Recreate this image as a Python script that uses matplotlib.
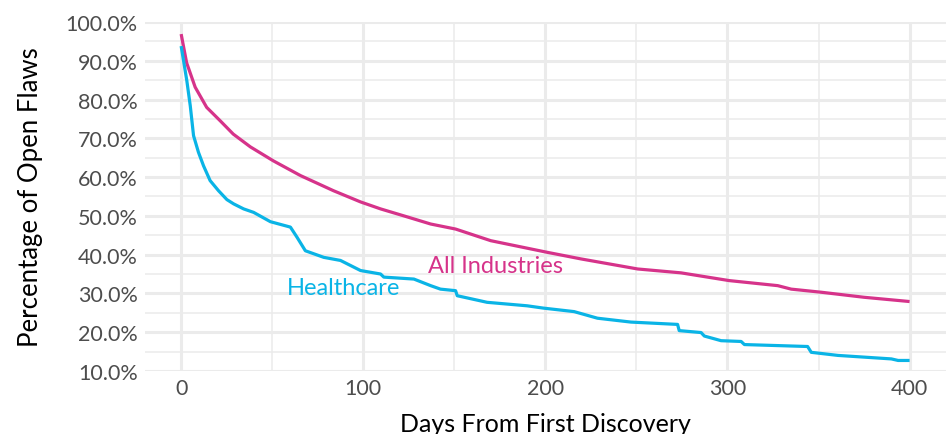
import numpy as np
import matplotlib.pyplot as plt

# curves (days, percent open)
all_days = [0, 3, 7.7, 14, 21.5, 28.6, 38, 50.6, 65.5, 83.6, 98.5, 109.5, 123, 137, 150.7,
            170, 201, 219.5, 250.7, 274.5, 301, 327.6, 335, 351.5, 375, 400]
all_pct = [96.9, 89.5, 83.2, 78.0, 74.5, 71.1, 67.8, 64.2, 60.4, 56.5, 53.6, 51.8, 49.9, 47.9, 46.6,
           43.6, 40.6, 38.9, 36.3, 35.3, 33.3, 32.0, 31.1, 30.3, 29.0, 27.9]

hc_days = [0, 3.1, 5, 6.8, 9.5, 12.3, 15.9, 20.5, 25.1, 28.8, 34.3, 39.8, 49, 60, 63.6,
           68.2, 78.3, 87.5, 98.5, 109.5, 111.3, 127.8, 137, 142.4, 150.7, 151.6, 168, 190,
           199, 215.8, 228.6, 247, 272.6, 273.5, 285.5, 287.3, 296.5, 307.5, 309.3, 344,
           346, 360.7, 390, 393.7, 400]
hc_pct = [93.8, 84.9, 78.4, 70.7, 66.4, 62.9, 59.1, 56.5, 54.2, 53.1, 51.8, 50.9, 48.5, 47.1, 44.5,
          41.0, 39.3, 38.5, 35.9, 35.0, 34.2, 33.7, 32.0, 31.1, 30.7, 29.4, 27.7, 26.8,
          26.2, 25.3, 23.6, 22.6, 22.0, 20.4, 19.9, 19.0, 17.8, 17.6, 16.8, 16.3,
          14.8, 14.0, 13.1, 12.7, 12.7]

pink = '#d6338a'
cyan = '#0ab4e6'
grid = '#ebebeb'

plt.rcParams['font.family'] = ['Lato', 'DejaVu Sans']

fig = plt.figure(figsize=(9.46, 4.35), dpi=100)
ax = fig.add_axes([0.153, 0.145, 0.847, 0.802])

ax.plot(all_days, all_pct, color=pink, lw=2.3, solid_capstyle='butt', clip_on=False, zorder=3)
ax.plot(hc_days, hc_pct, color=cyan, lw=2.3, solid_capstyle='butt', clip_on=False, zorder=3)

ax.text(172.7, 37.1, 'All Industries', color=pink, fontsize=17, ha='center', va='center')
ax.text(89, 31.4, 'Healthcare', color=cyan, fontsize=17, ha='center', va='center')

ax.set_xlim(-20, 420)
ax.set_ylim(10, 100)
ax.set_xticks([0, 100, 200, 300, 400])
ax.set_xticks([50, 150, 250, 350], minor=True)
ax.set_yticks(np.arange(10, 101, 10))
ax.set_yticks(np.arange(15, 100, 10), minor=True)
ax.set_yticklabels([f'{v:.1f}%' for v in np.arange(10, 101, 10)])

ax.grid(which='major', color=grid, lw=2.2)
ax.grid(which='minor', color=grid, lw=1.1)
ax.set_axisbelow(True)
for s in ax.spines.values():
    s.set_visible(False)
ax.tick_params(which='both', length=0, labelsize=15.5, labelcolor='#4d4d4d', pad=5)

ax.set_xlabel('Days From First Discovery', fontsize=18, color='black', labelpad=10)
ax.set_ylabel('Percentage of Open Flaws', fontsize=18.5, color='black', labelpad=16)

fig.savefig('out.png', dpi=100)
